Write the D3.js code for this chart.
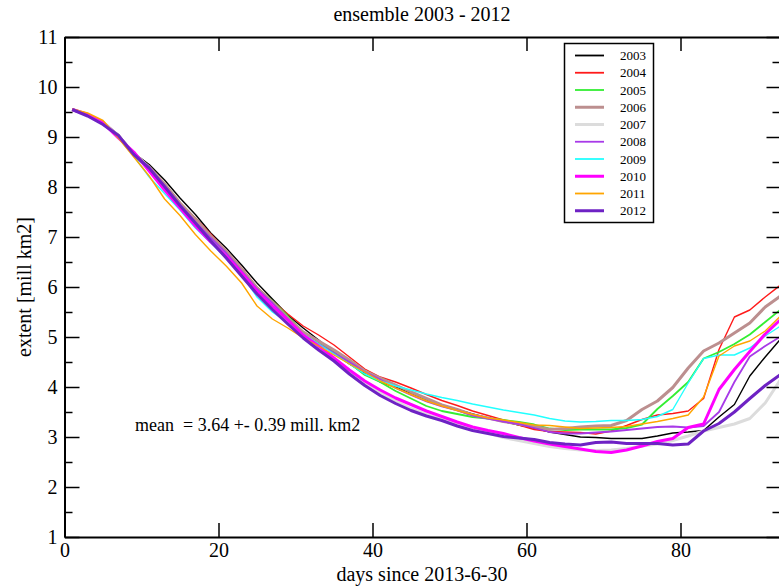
<!DOCTYPE html>
<html><head><meta charset="utf-8">
<script src="https://cdn.jsdelivr.net/npm/d3@7"></script>
<style>
html,body{margin:0;padding:0;background:#fff;}
text{font-family:"Liberation Serif","Times New Roman",serif;fill:#000;}
</style></head>
<body><svg id="c" width="779" height="588"></svg>
<script>
const days = [1,3,5,7,9,11,13,15,17,19,21,23,25,27,29,31,33,35,37,39,41,43,45,47,49,51,53,55,57,59,61,63,65,67,69,71,73,75,77,79,81,83,85,87,89,91,93];
const years = ["2003","2004","2005","2006","2007","2008","2009","2010","2011","2012"];
const v2003 = [9.55,9.45,9.30,9.05,8.68,8.45,8.14,7.78,7.45,7.08,6.78,6.44,6.08,5.76,5.44,5.18,4.94,4.68,4.46,4.27,4.10,4.00,3.88,3.75,3.64,3.55,3.46,3.38,3.31,3.24,3.18,3.10,3.05,3.00,2.99,2.97,2.97,2.97,3.02,3.08,3.10,3.13,3.40,3.65,4.22,4.60,4.96];
const v2004 = [9.55,9.45,9.30,9.02,8.66,8.38,8.04,7.67,7.38,7.06,6.72,6.38,6.00,5.72,5.46,5.22,5.04,4.84,4.60,4.36,4.20,4.10,3.98,3.85,3.73,3.63,3.52,3.43,3.34,3.24,3.15,3.11,3.10,3.09,3.06,3.12,3.23,3.35,3.44,3.47,3.52,3.77,4.75,5.40,5.54,5.80,6.04];
const v2005 = [9.55,9.45,9.30,9.00,8.64,8.36,7.98,7.60,7.28,6.96,6.68,6.34,5.98,5.72,5.42,5.10,4.90,4.70,4.48,4.24,4.10,3.92,3.77,3.62,3.52,3.46,3.40,3.37,3.34,3.30,3.25,3.17,3.14,3.15,3.15,3.15,3.18,3.25,3.56,3.82,4.10,4.57,4.70,4.86,5.05,5.30,5.55];
const v2006 = [9.55,9.45,9.30,9.02,8.66,8.40,8.06,7.68,7.36,7.02,6.72,6.36,5.98,5.70,5.38,5.10,4.92,4.74,4.54,4.32,4.18,4.04,3.90,3.77,3.64,3.55,3.44,3.38,3.31,3.26,3.21,3.15,3.17,3.20,3.22,3.23,3.33,3.55,3.72,3.99,4.38,4.72,4.88,5.08,5.28,5.60,5.82];
const v2007 = [9.55,9.45,9.30,9.02,8.68,8.38,8.00,7.62,7.26,6.93,6.62,6.28,5.92,5.62,5.30,5.02,4.78,4.54,4.32,4.08,3.88,3.72,3.57,3.45,3.35,3.26,3.17,3.08,2.99,2.93,2.87,2.81,2.77,2.74,2.73,2.74,2.77,2.82,2.86,2.93,3.02,3.12,3.19,3.26,3.37,3.68,4.15];
const v2008 = [9.55,9.45,9.30,9.02,8.66,8.38,8.02,7.64,7.30,6.98,6.68,6.32,5.96,5.68,5.36,5.04,4.86,4.68,4.50,4.30,4.15,3.98,3.84,3.71,3.61,3.53,3.43,3.37,3.31,3.26,3.18,3.10,3.07,3.07,3.09,3.11,3.14,3.17,3.20,3.21,3.19,3.22,3.50,4.10,4.61,4.82,5.01];
const v2009 = [9.55,9.45,9.28,8.98,8.62,8.20,7.87,7.54,7.18,6.88,6.58,6.25,5.80,5.50,5.28,5.06,4.86,4.66,4.46,4.26,4.12,4.02,3.94,3.86,3.79,3.73,3.66,3.60,3.54,3.49,3.44,3.37,3.32,3.30,3.31,3.33,3.33,3.35,3.41,3.55,4.08,4.57,4.64,4.64,4.78,5.02,5.22];
const v2010 = [9.55,9.45,9.28,8.98,8.70,8.32,7.94,7.58,7.22,6.90,6.62,6.28,5.92,5.62,5.34,5.04,4.82,4.58,4.34,4.12,3.94,3.78,3.65,3.52,3.41,3.30,3.20,3.13,3.07,2.99,2.92,2.86,2.81,2.76,2.71,2.69,2.74,2.82,2.91,2.97,3.19,3.26,3.95,4.35,4.71,5.06,5.35];
const v2011 = [9.56,9.48,9.33,8.98,8.60,8.22,7.76,7.43,7.05,6.72,6.42,6.08,5.62,5.36,5.18,4.98,4.82,4.64,4.46,4.30,4.12,3.98,3.85,3.72,3.62,3.53,3.45,3.38,3.34,3.29,3.24,3.23,3.20,3.17,3.18,3.19,3.21,3.26,3.31,3.37,3.44,3.80,4.62,4.82,4.92,5.12,5.42];
const v2012 = [9.55,9.42,9.25,9.03,8.65,8.38,8.01,7.63,7.28,6.92,6.58,6.22,5.86,5.55,5.26,4.98,4.74,4.52,4.26,4.03,3.83,3.67,3.53,3.42,3.33,3.22,3.13,3.07,3.01,2.98,2.95,2.89,2.86,2.84,2.89,2.90,2.87,2.87,2.87,2.84,2.86,3.12,3.27,3.50,3.77,4.03,4.25];
const xTicks = [0,20,40,60,80];
const yTicks = [1,2,3,4,5,6,7,8,9,10,11];
const yMinor = [1.5,2.5,3.5,4.5,5.5,6.5,7.5,8.5,9.5,10.5];
const titleText = "ensemble 2003 - 2012";
const xLabel = "days since 2013-6-30";
const yLabel = "extent [mill km2]";
const meanText = "mean  = 3.64 +- 0.39 mill. km2";

const values = [v2003,v2004,v2005,v2006,v2007,v2008,v2009,v2010,v2011,v2012];
const colors = ["#000000","#ff1a1a","#33ee33","#bc8f8f","#dcdcdc","#a83ae8","#22ffff","#ff00ff","#ffa500","#6e22c4"];
const widths = [1.4,1.4,1.8,3,3,1.8,1.4,3,1.4,3];

const L=64.5, R=779.5, T=37, B=537;
const svg = d3.select("#c");
const x = d3.scaleLinear().domain([0,(R-L)/7.7]).range([L,R]);
const y = d3.scaleLinear().domain([1,11]).range([B,T]);

svg.append("defs").append("clipPath").attr("id","clip").append("rect")
  .attr("x",L).attr("y",T).attr("width",R-L).attr("height",B-T);

const line = d3.line().x((d,i)=>x(days[i])).y(d=>y(d));
const g = svg.append("g").attr("clip-path","url(#clip)");
values.forEach((vals,k)=>{
  g.append("path").datum(vals).attr("d",line).attr("fill","none")
   .attr("stroke",colors[k]).attr("stroke-width",widths[k]).attr("stroke-linejoin","round");
});

function styleAxis(sel){
  sel.selectAll(".domain").attr("stroke","#000").attr("stroke-width",2);
  sel.selectAll(".tick line").attr("stroke","#000").attr("stroke-width",1.5);
  sel.selectAll("text").attr("font-family","Liberation Serif, serif").attr("font-size",20).attr("fill","#000");
}
const ax = svg.append("g").attr("transform",`translate(0,${B})`)
  .call(d3.axisBottom(x).tickValues(xTicks).tickSizeInner(-14).tickSizeOuter(0).tickPadding(6).tickFormat(d3.format("d")));
styleAxis(ax);
const axT = svg.append("g").attr("transform",`translate(0,${T})`)
  .call(d3.axisTop(x).tickValues(xTicks).tickSizeInner(-14).tickSizeOuter(0).tickFormat(""));
styleAxis(axT);
const ay = svg.append("g").attr("transform",`translate(${L},0)`)
  .call(d3.axisLeft(y).tickValues(yTicks).tickSizeInner(-15).tickSizeOuter(0).tickPadding(7).tickFormat(d3.format("d")));
styleAxis(ay);
const aym = svg.append("g").attr("transform",`translate(${L},0)`)
  .call(d3.axisLeft(y).tickValues(yMinor).tickSizeInner(-8).tickSizeOuter(0).tickFormat(""));
styleAxis(aym); aym.select(".domain").remove();
const ayr = svg.append("g").attr("transform",`translate(${R},0)`)
  .call(d3.axisRight(y).tickValues(yTicks).tickSizeInner(-13).tickSizeOuter(0).tickFormat(""));
styleAxis(ayr);
const ayrm = svg.append("g").attr("transform",`translate(${R},0)`)
  .call(d3.axisRight(y).tickValues(yMinor).tickSizeInner(-7).tickSizeOuter(0).tickFormat(""));
styleAxis(ayrm); ayrm.select(".domain").remove();

svg.append("text").attr("x",(L+R)/2).attr("y",21).attr("text-anchor","middle").attr("font-size",20).text(titleText);
svg.append("text").attr("x",(L+R)/2).attr("y",581).attr("text-anchor","middle").attr("font-size",20).text(xLabel);
svg.append("text").attr("transform","translate(31,287) rotate(-90)").attr("text-anchor","middle").attr("font-size",20).text(yLabel);
svg.append("text").attr("x",135).attr("y",431).attr("font-size",18).style("white-space","pre").text(meanText);

// legend
const lg = svg.append("g");
lg.append("rect").attr("x",564.5).attr("y",43.5).attr("width",89).attr("height",179)
  .attr("fill","#fff").attr("stroke","#000").attr("stroke-width",1.5);
years.forEach((yr,k)=>{
  const yy = 55.5 + k*17.25;
  lg.append("line").attr("x1",575).attr("x2",604).attr("y1",yy).attr("y2",yy)
    .attr("stroke",colors[k]).attr("stroke-width",Math.max(widths[k],1.8));
  lg.append("text").attr("x",620).attr("y",yy+4.5).attr("font-size",13).text(yr);
});
</script></body></html>
